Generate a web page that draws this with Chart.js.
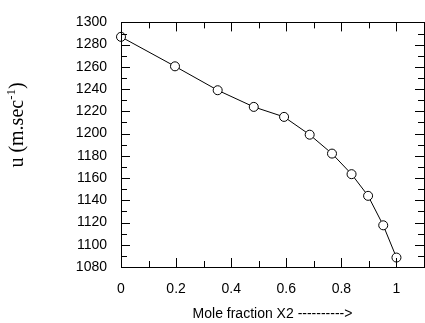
<!DOCTYPE html>
<html>
<head>
<meta charset="utf-8">
<script src="https://cdn.jsdelivr.net/npm/chart.js@4"></script>
<style>
  body { margin: 0; background: #fff; }
</style>
</head>
<body>
<canvas id="chart" width="425" height="323"></canvas>
<script>
// Datos
const moleFraction = [0, 0.196, 0.351, 0.482, 0.592, 0.685, 0.766, 0.837, 0.897, 0.952, 1.0];
const velocity = [1287, 1260.5, 1239, 1224, 1215, 1199, 1182, 1163.5, 1144, 1117.5, 1088.5];
const xTitle = 'Mole fraction X2 ---------->';

// marco y marcas hacia dentro
const frameTicks = {
  id: 'frameTicks',
  afterDraw(chart) {
    const ctx = chart.ctx;
    const a = chart.chartArea;
    const xs = chart.scales.x, ys = chart.scales.y;
    ctx.save();
    ctx.strokeStyle = '#000';
    ctx.lineWidth = 1;
    ctx.strokeRect(Math.round(a.left) + 0.5, Math.round(a.top) + 0.5,
      Math.round(a.right - a.left), Math.round(a.bottom - a.top));
    ctx.beginPath();
    for (let v = xs.min; v <= xs.max + 1e-9; v += 0.1) {
      const major = Math.round(v * 10) % 2 === 0;
      const len = major ? 9 : 6;
      const px = Math.round(xs.getPixelForValue(v)) + 0.5;
      ctx.moveTo(px, a.bottom); ctx.lineTo(px, a.bottom - len);
      ctx.moveTo(px, a.top); ctx.lineTo(px, a.top + len);
    }
    for (let v = ys.min; v <= ys.max; v += 10) {
      const major = v % 20 === 0;
      const len = major ? 9 : 6;
      const py = Math.round(ys.getPixelForValue(v)) + 0.5;
      ctx.moveTo(a.left, py); ctx.lineTo(a.left + len, py);
      ctx.moveTo(a.right, py); ctx.lineTo(a.right - len, py);
    }
    ctx.stroke();

    // titulo del eje y con superindice
    ctx.translate(18, 125);
    ctx.rotate(-Math.PI / 2);
    ctx.fillStyle = '#000';
    ctx.textBaseline = 'middle';
    const big = '20px "Liberation Serif", "Times New Roman", serif';
    const small = '13px "Liberation Serif", "Times New Roman", serif';
    ctx.font = big;
    const w1 = ctx.measureText('u (m.sec').width;
    const w3 = ctx.measureText(')').width;
    ctx.font = small;
    const w2 = ctx.measureText('-1').width;
    let x = -(w1 + w2 + w3) / 2;
    ctx.font = big;
    ctx.fillText('u (m.sec', x, 0);
    x += w1;
    ctx.font = small;
    ctx.fillText('-1', x, -6);
    x += w2;
    ctx.font = big;
    ctx.fillText(')', x, 0);
    ctx.restore();
  }
};

new Chart(document.getElementById('chart'), {
  type: 'line',
  data: {
    labels: moleFraction,
    datasets: [{
      data: moleFraction.map((x, i) => ({ x: x, y: velocity[i] })),
      borderColor: '#000',
      borderWidth: 1,
      pointRadius: 4.5,
      pointBorderWidth: 1,
      pointBorderColor: '#000',
      pointBackgroundColor: '#fff',
      tension: 0,
      clip: false
    }]
  },
  options: {
    responsive: false,
    devicePixelRatio: 1,
    animation: false,
    layout: { autoPadding: false, padding: { top: 20, right: 1, left: 0, bottom: 0 } },
    plugins: { legend: { display: false }, tooltip: { enabled: false } },
    scales: {
      x: {
        type: 'linear',
        min: 0,
        max: 1.1,
        grid: { display: false, drawTicks: false },
        border: { display: false },
        ticks: {
          stepSize: 0.2,
          includeBounds: false,
          padding: 14,
          color: '#000',
          font: { family: '"Liberation Sans", Arial, sans-serif', size: 14 },
          callback: v => String(Math.round(v * 10) / 10)
        },
        title: {
          display: true,
          text: xTitle,
          color: '#000',
          font: { family: '"Liberation Sans", Arial, sans-serif', size: 14 },
          padding: { top: 4, bottom: 0 }
        },
        afterFit: s => { s.height = 56; }
      },
      y: {
        min: 1080,
        max: 1300,
        grid: { display: false, drawTicks: false },
        border: { display: false },
        ticks: {
          stepSize: 20,
          padding: 14,
          color: '#000',
          font: { family: '"Liberation Sans", Arial, sans-serif', size: 14 },
          callback: v => String(v)
        },
        afterFit: s => { s.width = 121; }
      }
    }
  },
  plugins: [frameTicks]
});
</script>
</body>
</html>
